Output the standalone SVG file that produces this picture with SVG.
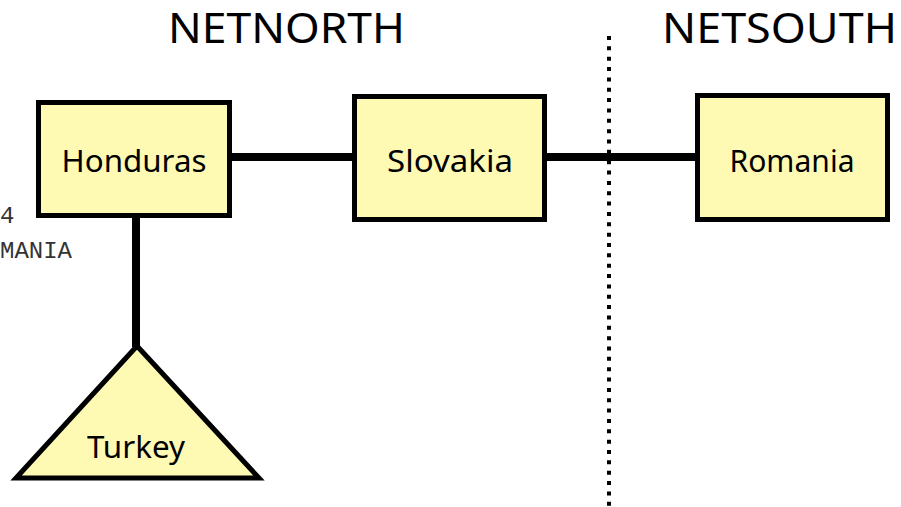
<svg xmlns="http://www.w3.org/2000/svg" width="901" height="507" viewBox="0 0 901 507">
<style>
.node{fill:#fefab4;stroke:#000;stroke-width:5}
.lbl{font-family:"Comic Sans MS","Noto Sans",sans-serif;font-size:31px;fill:#000;text-anchor:middle}
.hdr{font-family:"Comic Sans MS","Noto Sans",sans-serif;font-size:41px;fill:#000}
.link{stroke:#000;stroke-width:8;fill:none}
.note{font-family:"Liberation Mono",monospace;font-size:24px;fill:#333}
</style>
<rect width="901" height="507" fill="#fff"/>
<text class="hdr" x="168" y="43" textLength="237" lengthAdjust="spacingAndGlyphs">NETNORTH</text>
<text class="hdr" x="662" y="43" textLength="235" lengthAdjust="spacingAndGlyphs">NETSOUTH</text>
<text class="note" x="0" y="223">4</text>
<text class="note" x="0" y="258">MANIA</text>
<g id="connectors">
<line class="link" x1="229" y1="157" x2="354" y2="157"/>
<line class="link" x1="545" y1="157" x2="697" y2="157"/>
<line class="link" x1="136" y1="216" x2="136" y2="347"/>
<line x1="609" y1="36" x2="609" y2="507" stroke="#000" stroke-width="4" stroke-dasharray="4 6.35"/>
</g>
<g id="honduras">
<rect class="node" x="38.5" y="102.5" width="191" height="113"/>
<text class="lbl" x="134" y="172" textLength="145" lengthAdjust="spacingAndGlyphs">Honduras</text>
</g>
<g id="slovakia">
<rect class="node" x="354.5" y="96.5" width="190" height="123"/>
<text class="lbl" x="450" y="172" textLength="126" lengthAdjust="spacingAndGlyphs">Slovakia</text>
</g>
<g id="romania">
<rect class="node" x="697.5" y="95.5" width="190" height="124"/>
<text class="lbl" x="792" y="172" textLength="125" lengthAdjust="spacingAndGlyphs">Romania</text>
</g>
<g id="turkey">
<polygon class="node" points="137,346 16,478 259,478" stroke-linejoin="miter"/>
<text class="lbl" x="136" y="458" textLength="98" lengthAdjust="spacingAndGlyphs">Turkey</text>
</g>
</svg>
